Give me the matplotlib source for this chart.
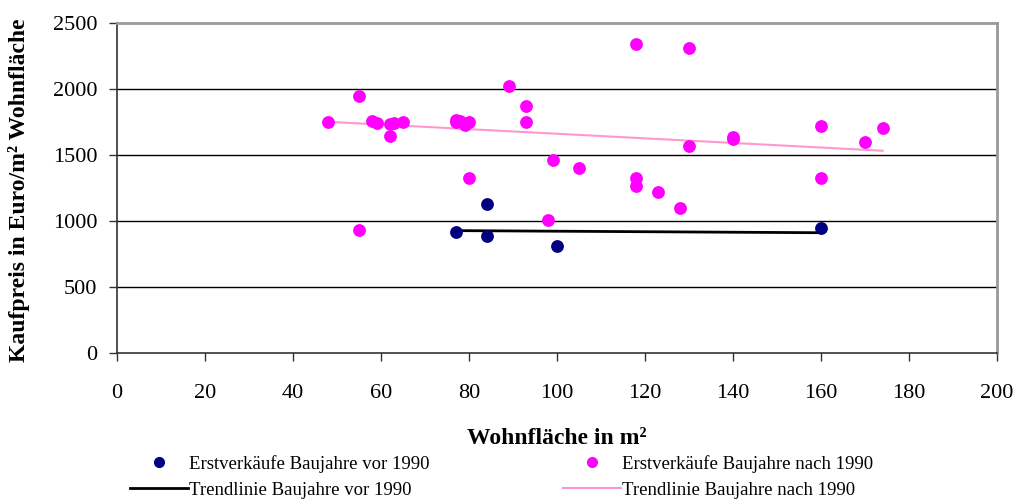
import numpy as np
import matplotlib
matplotlib.use("Agg")
import matplotlib.pyplot as plt
from matplotlib.lines import Line2D

# Data
vor_x = [77, 84, 84, 100, 160]
vor_y = [920, 1130, 885, 810, 945]

nach_x = [48, 55, 55, 58, 59, 62, 62, 63, 65, 77, 77, 78, 79, 80, 80, 89, 93, 93,
          98, 99, 105, 118, 118, 118, 123, 128, 130, 130, 140, 140, 160, 160, 170, 174]
nach_y = [1750, 1945, 930, 1760, 1740, 1735, 1645, 1745, 1750, 1765, 1750, 1755, 1725,
          1750, 1325, 2025, 1870, 1750, 1010, 1460, 1400, 2340, 1325, 1265, 1220, 1095,
          2310, 1565, 1620, 1635, 1720, 1325, 1595, 1705]

# Trend line coefficients (slope, intercept)
trend_vor = [-0.193, 942]
trend_nach = [-1.74, 1835]

x_ticks = [0, 20, 40, 60, 80, 100, 120, 140, 160, 180, 200]
y_ticks = [0, 500, 1000, 1500, 2000, 2500]

labels = ["Erstverkäufe Baujahre vor 1990", "Trendlinie Baujahre vor 1990",
          "Erstverkäufe Baujahre nach 1990", "Trendlinie Baujahre nach 1990"]
xlabel = "Wohnfläche in m²"
ylabel = "Kaufpreis in Euro/m² Wohnfläche"

plt.rcParams['font.family'] = ['Liberation Serif', 'DejaVu Serif']

fig = plt.figure(figsize=(10.2, 5.01), dpi=100)
ax = fig.add_axes([117/1020, 1 - 353/501, (997 - 117)/1020, (353 - 23)/501])

navy = '#000080'
magenta = '#FF00FF'
pink = '#FF99CC'

# Trend lines
xv = np.array([min(vor_x), max(vor_x)])
ax.plot(xv, np.polyval(trend_vor, xv), color='black', lw=2, zorder=2)
xn = np.array([min(nach_x), max(nach_x)])
ax.plot(xn, np.polyval(trend_nach, xn), color=pink, lw=1.5, zorder=2)

ax.scatter(vor_x, vor_y, s=85, color=navy, zorder=3, linewidths=0)
ax.scatter(nach_x, nach_y, s=85, color=magenta, zorder=3, linewidths=0)

ax.set_xlim(0, 200)
ax.set_ylim(0, 2500)
ax.set_xticks(x_ticks)
ax.set_yticks(y_ticks)
ax.tick_params(axis='both', labelsize=16, length=6, width=1, direction='out', color='#333333')
ax.tick_params(axis='x', pad=16)
ax.tick_params(axis='y', pad=8)

for v in y_ticks[1:-1]:
    ax.axhline(v, color='black', lw=1, zorder=1)

ax.spines['left'].set_color('#333333')
ax.spines['bottom'].set_color('#333333')
ax.spines['left'].set_linewidth(1.2)
ax.spines['bottom'].set_linewidth(1.2)
ax.spines['top'].set_color('#999999')
ax.spines['right'].set_color('#999999')
ax.spines['top'].set_linewidth(2)
ax.spines['right'].set_linewidth(2)

ax.set_xlabel(xlabel, fontsize=17, fontweight='bold', va='center')
ax.xaxis.set_label_coords(0.5, (353 - 439) / 330)
ax.set_ylabel(ylabel, fontsize=17, fontweight='bold', va='center')
ax.yaxis.set_label_coords((19 - 117) / 880, (353 - 190) / 330)

h_vor = [Line2D([], [], ls='none', marker='o', color=navy, markersize=7),
         Line2D([], [], color='black', lw=2)]
h_nach = [Line2D([], [], ls='none', marker='o', color=magenta, markersize=7),
          Line2D([], [], color=pink, lw=1.5)]
common = dict(loc='upper left', frameon=False, fontsize=13.5, handlelength=3.1,
              handletextpad=0.05, labelspacing=0.48, borderpad=0, borderaxespad=0)
leg1 = fig.legend(h_vor, labels[:2], bbox_to_anchor=(130/1020, 1 - 455/501), **common)
leg2 = fig.legend(h_nach, labels[2:], bbox_to_anchor=(563/1020, 1 - 455/501), **common)

fig.savefig('out.png', dpi=100)
